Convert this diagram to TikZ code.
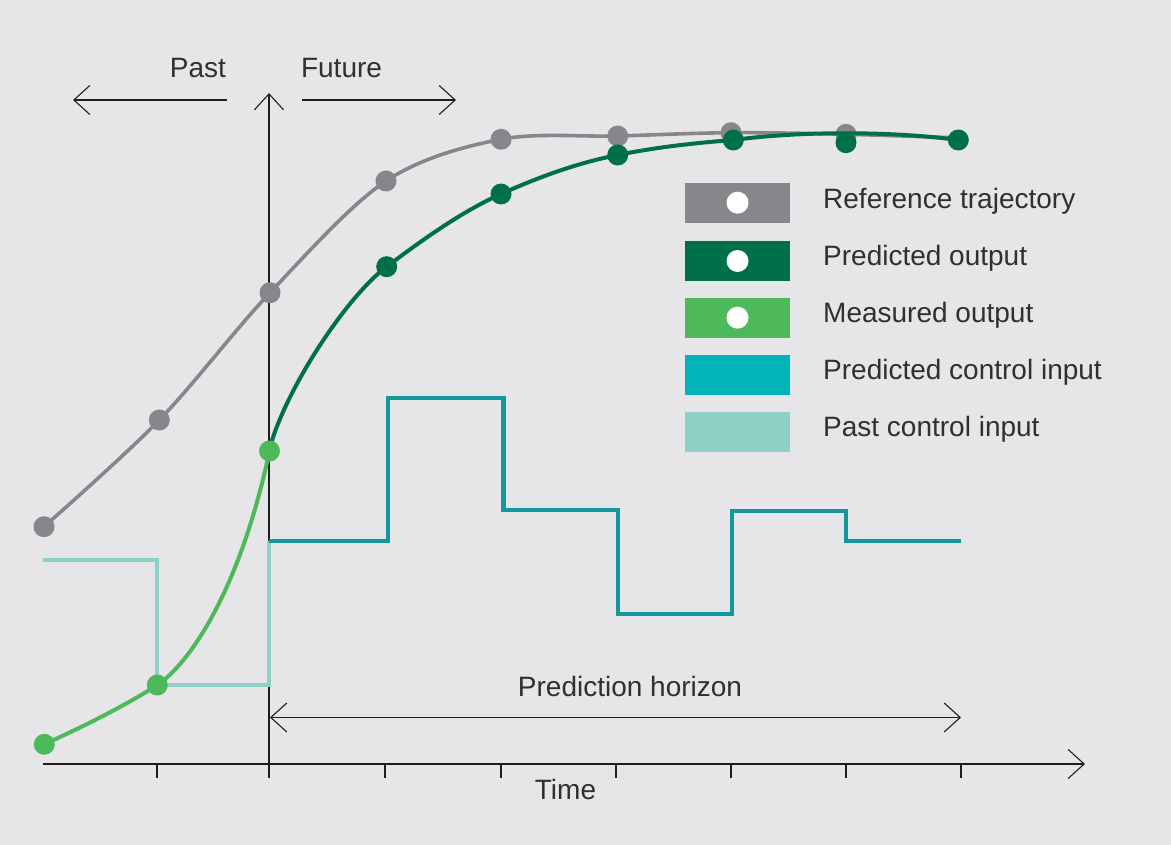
\documentclass[tikz,border=0pt]{standalone}
\usepackage{fontspec}
\setmainfont{Liberation Sans}
\usetikzlibrary{arrows.meta}
\definecolor{bgc}{HTML}{E6E6E8}
\definecolor{refgray}{HTML}{87878B}
\definecolor{dkgreen}{HTML}{00704B}
\definecolor{ltgreen}{HTML}{4DB95A}
\definecolor{tealbox}{HTML}{00B4BA}
\definecolor{tealline}{HTML}{12999B}
\definecolor{ltteal}{HTML}{8DD0C6}
\definecolor{textc}{HTML}{303030}
\definecolor{axisc}{HTML}{1E1E1E}
\begin{document}
\begin{tikzpicture}[x=1pt,y=-1pt,
  axisline/.style={line width=1.1pt, draw=axisc},
  barbtip/.style={-{Straight Barb[length=16pt,width=29pt]}},
  barbboth/.style={{Straight Barb[length=16pt,width=29pt]}-{Straight Barb[length=16pt,width=29pt]}},
  lbl/.style={font=\fontsize{28}{33}\selectfont, text=textc, inner sep=0pt},
  legbox/.style={rectangle, draw=none, minimum width=105pt, minimum height=40pt, inner sep=0pt},
  refline/.style={draw=refgray, line width=3.6pt},
  predline/.style={draw=dkgreen, line width=4pt},
  measline/.style={draw=ltgreen, line width=4pt},
  ctrlline/.style={draw=tealline, line width=4.5pt, line join=miter},
  pastctrl/.style={draw=ltteal, line width=4.5pt, line join=miter},
]
% background / bounding box
\fill[bgc] (0,0) rectangle (1171,845);
\useasboundingbox (0,0) rectangle (1171,845);

% axes
\coordinate (xs) at (43,764);
\coordinate (xe) at (1085,764);
\coordinate (ys) at (269,778);
\coordinate (ye) at (269,93);
\draw[axisline,barbtip] (xs) -- (xe);
\draw[axisline,barbtip] (ys) -- (ye);
\foreach \x in {157,385,501,616,731,846,961}
  \draw[axisline] (\x,764) -- (\x,778);

% past / future arrows
\coordinate (pa1) at (227,100);
\coordinate (pa2) at (73,100);
\coordinate (fu1) at (302,100);
\coordinate (fu2) at (456,100);
\draw[axisline,barbtip] (pa1) -- (pa2);
\draw[axisline,barbtip] (fu1) -- (fu2);
\node[lbl, anchor=base] (past) at (198,77.7) {Past};
\node[lbl, anchor=base] (future) at (341.5,77.7) {Future};

% prediction horizon
\coordinate (ph1) at (270,717.5);
\coordinate (ph2) at (961,717.5);
\draw[axisline,barbboth] (ph1) -- (ph2);
\node[lbl, anchor=base] (phtext) at (630,696) {Prediction horizon};
\node[lbl, anchor=base] (time) at (565.5,799) {Time};

% past control input
\draw[pastctrl] (43,560) -- (157,560) -- (157,685) -- (269,685) -- (269,541);
% predicted control input
\draw[ctrlline] (269,541) -- (388,541) -- (388,398) -- (503.5,398) -- (503.5,510)
  -- (618,510) -- (618,614) -- (732,614) -- (732,511) -- (846,511) -- (846,541) -- (961,541);

% reference trajectory
\coordinate (g1) at (44,526.7);
\coordinate (g2) at (159.3,420);
\coordinate (g3) at (270,292.7);
\coordinate (g4) at (386,181);
\coordinate (g5) at (501,139.3);
\coordinate (g6) at (617.7,136);
\coordinate (g7) at (731,132.7);
\coordinate (g8) at (846,134.3);
\coordinate (g9) at (961,138);
\draw[refline] plot[smooth, tension=0.55] coordinates {(g1) (g2) (g3) (g4) (g5) (g6) (g7) (g8) (g9)};
\foreach \p in {g1,g2,g3,g4,g5,g6,g7,g8}
  \fill[refgray] (\p) circle (10.5pt);

% predicted output
\coordinate (p0) at (269,451);
\coordinate (p1) at (386.7,266.7);
\coordinate (p2) at (501,194);
\coordinate (p3) at (617.7,155);
\coordinate (p4) at (733.3,140);
\coordinate (p5) at (846,142.7);
\coordinate (p6) at (958.3,140);
\draw[predline] (p0) .. controls (284,391) and (347,296) .. (p1)
  .. controls (424.3,238.3) and (462.7,211.2) .. (p2)
  .. controls (539.7,176.6) and (578.3,162.7) .. (p3)
  .. controls (655.7,147.3) and (694.3,143) .. (p4)
  .. controls (800,131) and (890,131) .. (p6);
\foreach \p in {p1,p2,p3,p4,p5,p6}
  \fill[dkgreen] (\p) circle (10.5pt);

% measured output
\coordinate (m1) at (44.3,744.3);
\coordinate (m2) at (157.3,685);
\coordinate (m3) at (269.5,451);
\draw[measline] (m1) .. controls (80,728) and (125,706) .. (m2)
  .. controls (190,663) and (240,590) .. (m3);
\foreach \p in {m1,m2,m3}
  \fill[ltgreen] (\p) circle (10.5pt);

% legend
\node[legbox, fill=refgray] (lg1) at (737.5,202.7) {};
\node[legbox, fill=dkgreen] (lg2) at (737.5,261) {};
\node[legbox, fill=ltgreen] (lg3) at (737.5,317.7) {};
\node[legbox, fill=tealbox] (lg4) at (737.5,375) {};
\node[legbox, fill=ltteal] (lg5) at (737.5,431.7) {};
\foreach \b in {lg1,lg2,lg3}
  \fill[white] (\b.center) circle (11pt);
\node[lbl, anchor=base west] (lt1) at (823,208.3) {Reference trajectory};
\node[lbl, anchor=base west] (lt2) at (823,266) {Predicted output};
\node[lbl, anchor=base west] (lt3) at (823,322.7) {Measured output};
\node[lbl, anchor=base west] (lt4) at (823,379.3) {Predicted control input};
\node[lbl, anchor=base west] (lt5) at (823,436) {Past control input};
\end{tikzpicture}
\end{document}
